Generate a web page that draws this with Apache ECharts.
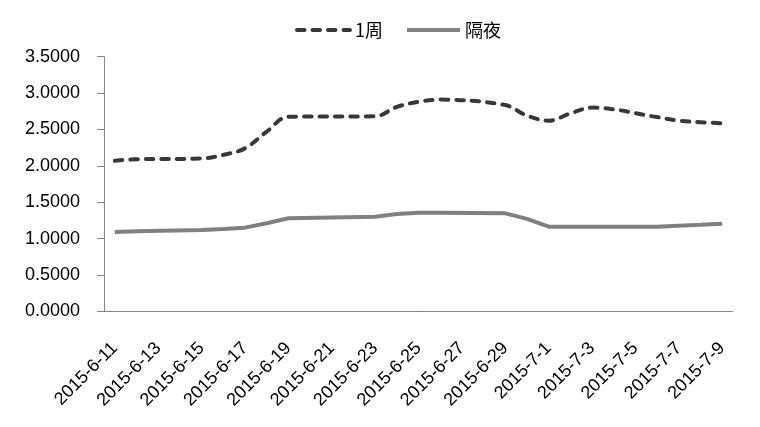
<!DOCTYPE html>
<html>
<head>
<meta charset="utf-8">
<script src="https://cdn.jsdelivr.net/npm/echarts@6/dist/echarts.min.js"></script>
<style>html,body{margin:0;padding:0;background:#fff;}#c{width:760px;height:427px;}</style>
</head>
<body>
<div id="c"></div>
<script>
var categories = ['2015-6-11','2015-6-12','2015-6-13','2015-6-14','2015-6-15','2015-6-16','2015-6-17','2015-6-18','2015-6-19','2015-6-20','2015-6-21','2015-6-22','2015-6-23','2015-6-24','2015-6-25','2015-6-26','2015-6-27','2015-6-28','2015-6-29','2015-6-30','2015-7-1','2015-7-2','2015-7-3','2015-7-4','2015-7-5','2015-7-6','2015-7-7','2015-7-8','2015-7-9'];
var week1 = [2.07, 2.09, null, null, 2.10, 2.15, 2.24, 2.47, 2.675, null, null, null, 2.68, 2.81, 2.88, 2.91, null, null, 2.835, 2.69, 2.62, 2.72, 2.80, null, null, 2.67, 2.62, 2.60, 2.585];
var overnight = [1.09, 1.10, null, null, 1.118, 1.13, 1.15, 1.21, 1.28, null, null, null, 1.30, 1.338, 1.356, 1.356, null, null, 1.347, 1.27, 1.163, 1.163, 1.163, null, null, 1.163, 1.177, 1.19, 1.204];
var yTicks = [0, 0.5, 1, 1.5, 2, 2.5, 3, 3.5];

var chart = echarts.init(document.getElementById('c'));
chart.setOption({
  animation: false,
  backgroundColor: '#fff',
  legend: {
    left: 290, top: 16,
    itemWidth: 53, itemHeight: 14, itemGap: 22,
    itemStyle: {opacity: 0},
    lineStyle: {width: 4},
    textStyle: {fontFamily: 'Noto Sans CJK SC', fontSize: 18, color: '#000'},
    data: ['1周', '隔夜']
  },
  grid: {left: 104, right: 27, top: 56.7, bottom: 115.7},
  xAxis: {
    type: 'category',
    data: categories,
    boundaryGap: true,
    axisLine: {lineStyle: {color: '#868686', width: 1}},
    axisTick: {interval: 1, length: 7, lineStyle: {color: '#868686'}},
    axisLabel: {interval: 1, rotate: 45, margin: 34, fontFamily: 'Liberation Sans', fontSize: 18, color: '#000'}
  },
  yAxis: {
    type: 'value',
    min: yTicks[0], max: yTicks[yTicks.length - 1], interval: 0.5,
    axisLine: {show: true, lineStyle: {color: '#868686', width: 1}},
    axisTick: {show: true, length: 7, lineStyle: {color: '#868686'}},
    splitLine: {show: false},
    axisLabel: {margin: 24, fontFamily: 'Liberation Sans', fontSize: 18, color: '#000',
      formatter: function (v) { return v.toFixed(4); }}
  },
  series: [
    {
      name: '1周', type: 'line', data: week1, connectNulls: true, smooth: 0.35,
      symbol: 'none',
      lineStyle: {color: '#383838', width: 4, type: [7.5, 8], cap: 'round'},
      itemStyle: {color: '#383838'}
    },
    {
      name: '隔夜', type: 'line', data: overnight, connectNulls: true,
      symbol: 'none',
      lineStyle: {color: '#808080', width: 4},
      itemStyle: {color: '#808080'}
    }
  ]
});
</script>
</body>
</html>
